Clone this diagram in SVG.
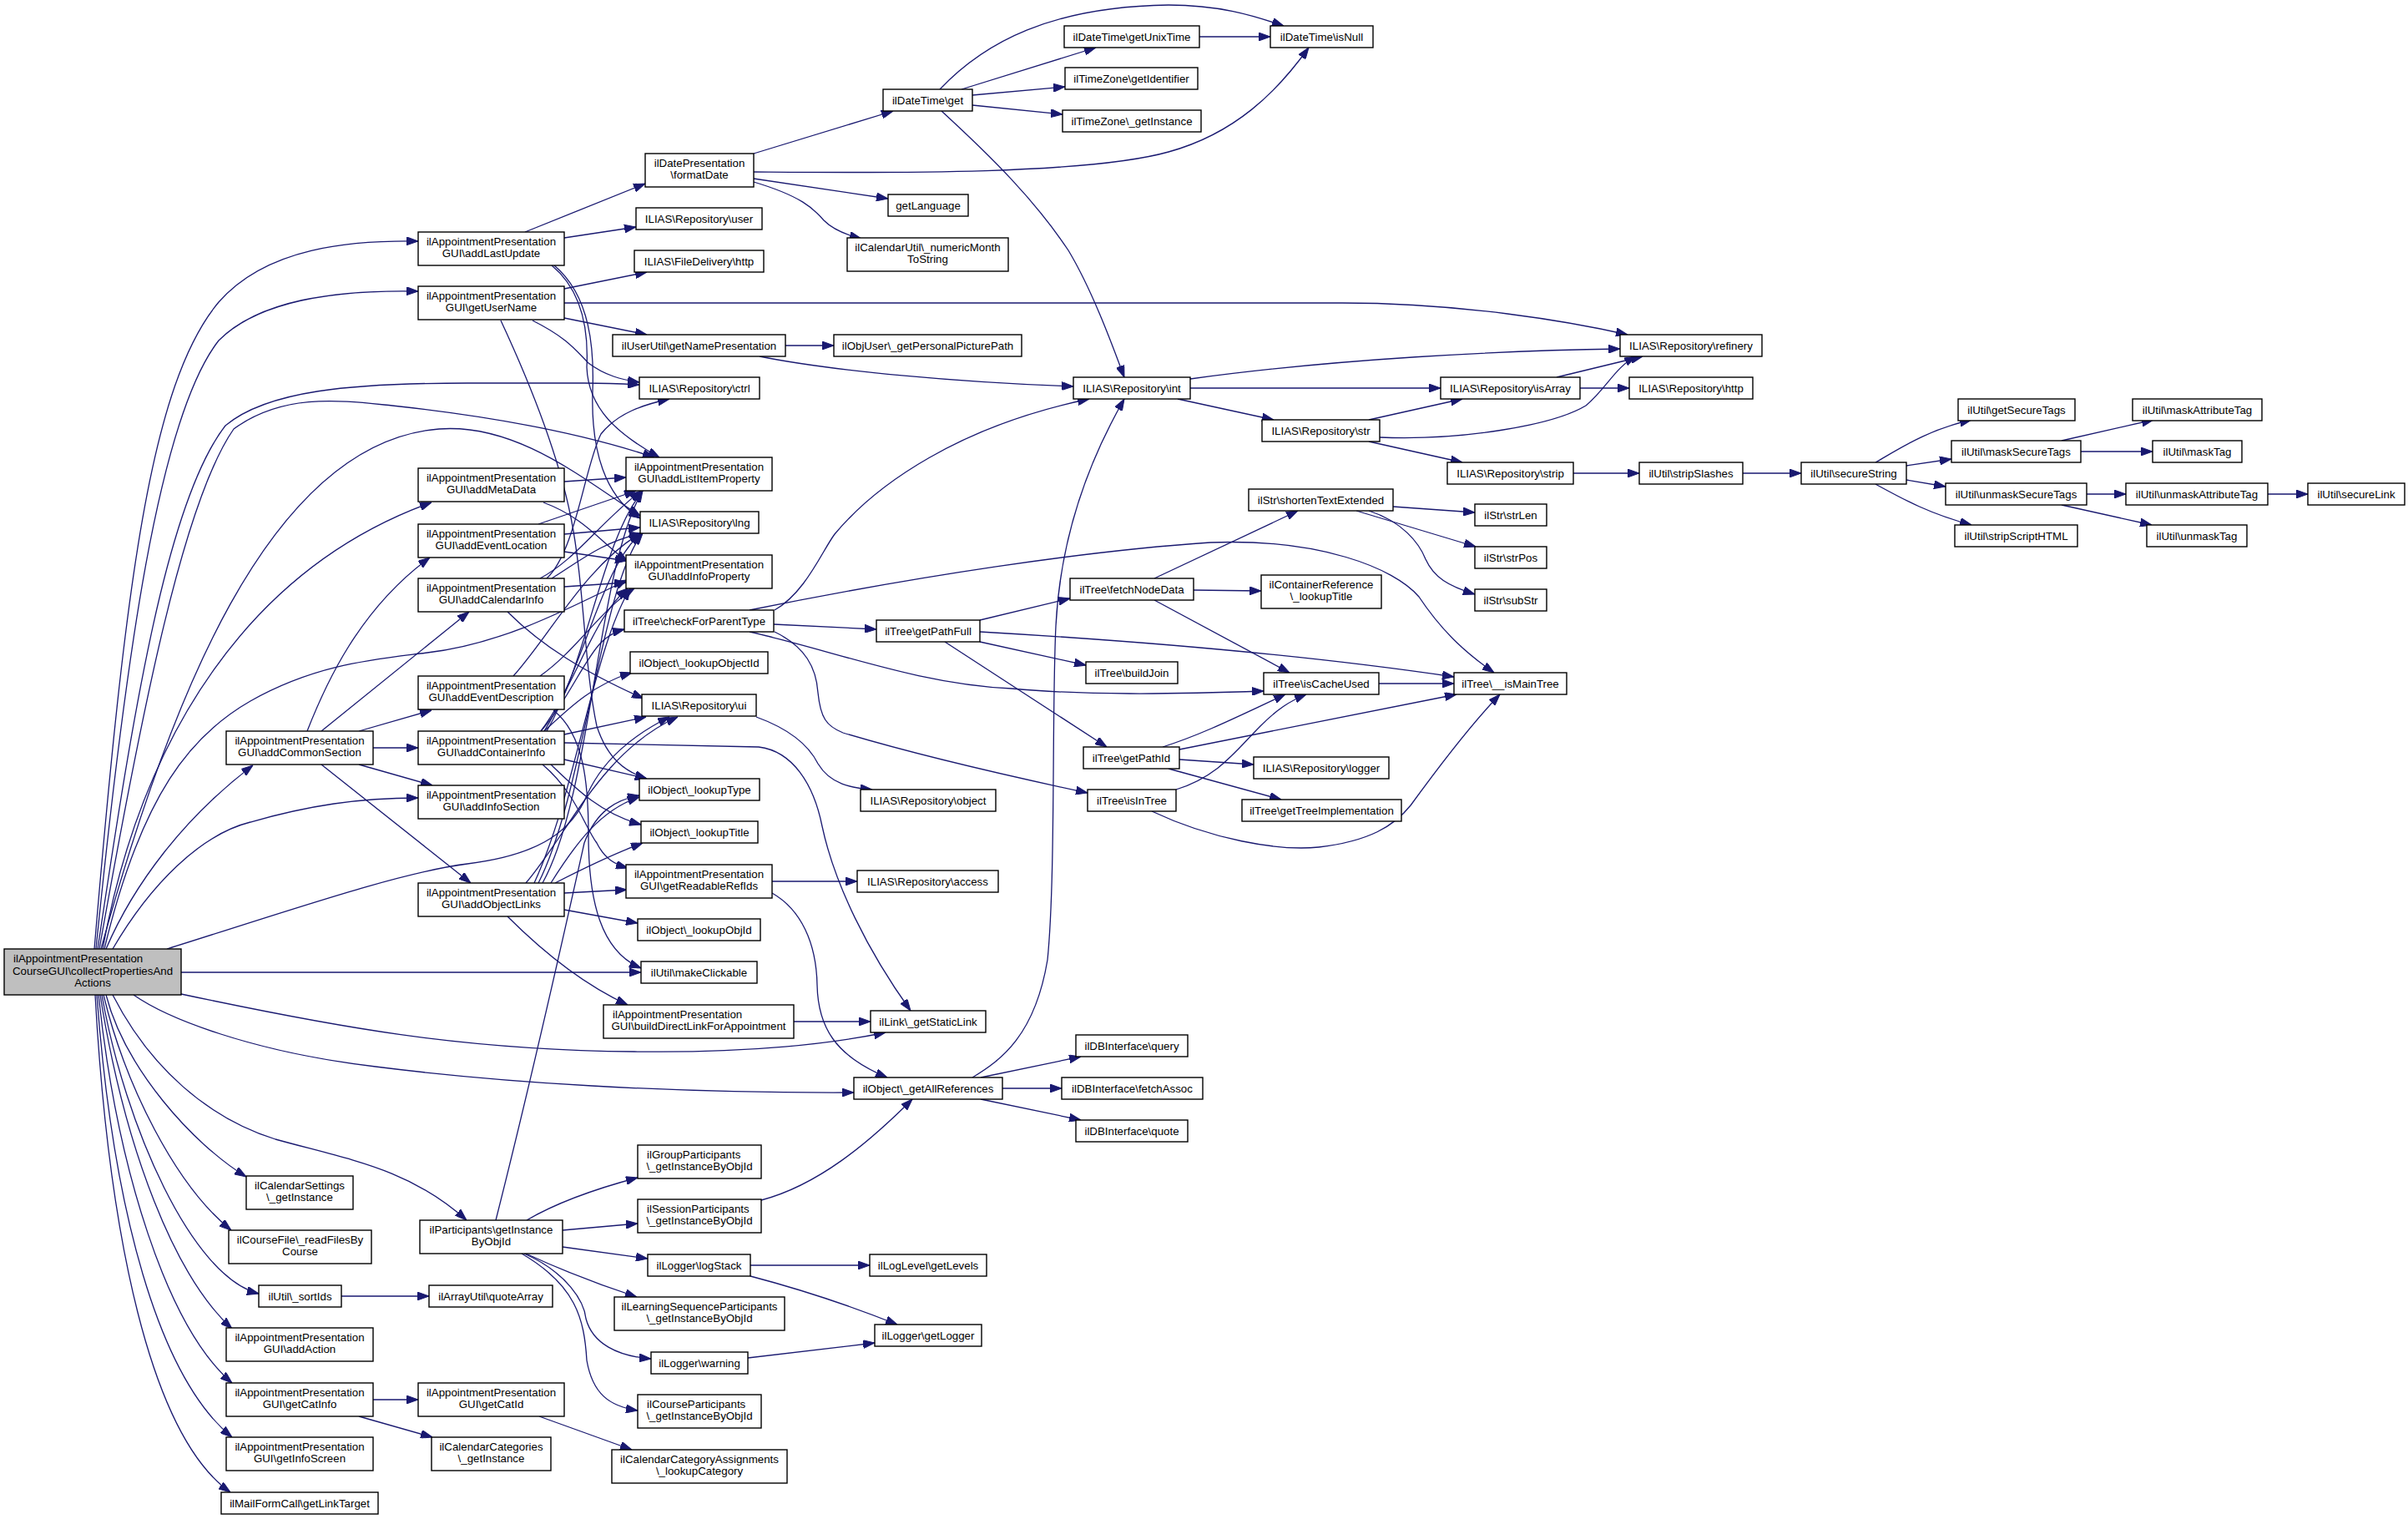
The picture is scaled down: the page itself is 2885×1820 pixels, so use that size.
<svg xmlns="http://www.w3.org/2000/svg" width="2885" height="1820" viewBox="0 0 2885 1820">
<defs>
<marker id="a" markerWidth="14" markerHeight="10" refX="14" refY="5" orient="auto" markerUnits="userSpaceOnUse"><path d="M0,0 L14,5 L0,10 z" fill="#191970" stroke="#191970" stroke-width="1"/></marker>
</defs>
<style>
.n rect{fill:#fff;stroke:#000;stroke-width:1.4}
.n rect.root{fill:#bfbfbf}
.n text{font-family:"Liberation Sans",Arial,sans-serif;font-size:13.3px;fill:#000;text-anchor:middle}
.n text.l{text-anchor:start}
.e path{fill:none;stroke:#191970;stroke-width:1.3;marker-end:url(#a)}
</style>
<rect x="0" y="0" width="2885" height="1820" fill="#fff"/>
<g id="edges" class="e">
<path d="M113,1137 C150,700 180,460 262,362 C320,296 420,288 501,289"/>
<path d="M115,1137 C150,790 190,500 262,408 C310,360 400,347 501,349"/>
<path d="M117,1137 C160,850 200,600 270,510 C320,468 420,459 560,459 L700,459 C730,459 748,460 766,461"/>
<path d="M119,1137 C170,850 220,600 280,514 C340,470 410,480 470,486 C600,500 700,520 784,548"/>
<path d="M121,1137 C200,850 320,530 526,514 C620,507 700,575 767,618"/>
<path d="M123,1137 C170,880 300,680 517,602"/>
<path d="M125,1137 C170,950 230,880 300,840 C380,795 450,790 512,782 C600,772 680,730 751,695"/>
<path d="M127,1137 C160,1060 220,980 303,917"/>
<path d="M135,1137 C180,1060 240,1000 300,985 C370,965 430,956 501,956"/>
<path d="M200,1137 C350,1090 480,1045 560,1035 C640,1025 680,1000 700,960 C720,910 760,880 802,859"/>
<path d="M217,1165 L768,1165"/>
<path d="M217,1191 C400,1230 550,1258 760,1260 C900,1262 1000,1250 1061,1237"/>
<path d="M160,1192 C200,1220 300,1260 450,1278 C600,1297 800,1310 1023,1309"/>
<path d="M135,1192 C180,1280 250,1340 330,1365 C420,1390 490,1400 559,1462"/>
<path d="M127,1192 C150,1280 230,1370 295,1410"/>
<path d="M124,1192 C150,1300 210,1420 277,1474"/>
<path d="M122,1192 C150,1350 230,1530 310,1550"/>
<path d="M120,1192 C150,1380 210,1530 278,1592"/>
<path d="M118,1192 C140,1400 200,1590 278,1657"/>
<path d="M116,1192 C135,1450 190,1650 278,1722"/>
<path d="M114,1192 C130,1480 180,1720 276,1788"/>
<path d="M629,278 L773,220"/>
<path d="M676,285 L762,272"/>
<path d="M661,318 C700,350 705,400 703,440 C705,490 740,520 790,548"/>
<path d="M664,318 C708,355 712,420 710,470 C708,540 725,595 767,621"/>
<path d="M676,346 L775,326"/>
<path d="M676,363 L1608,363 C1750,363 1880,385 1950,401"/>
<path d="M676,381 L775,401"/>
<path d="M638,384 C680,405 690,420 705,435 C725,450 745,455 766,458"/>
<path d="M600,384 C640,470 670,550 684,620 C700,700 700,800 715,870 C728,910 750,925 775,933"/>
<path d="M903,184 L1070,133"/>
<path d="M903,206 C1050,207 1300,210 1400,182 C1480,160 1530,110 1568,57"/>
<path d="M903,214 L1064,238"/>
<path d="M903,218 C960,235 975,250 987,264 C997,274 1012,281 1032,286"/>
<path d="M1152,107 L1313,57"/>
<path d="M1165,114 L1276,104"/>
<path d="M1165,126 L1273,137"/>
<path d="M1126,107 C1180,50 1260,8 1400,6 C1460,6 1500,18 1538,31"/>
<path d="M1128,133 C1190,190 1240,240 1280,300 C1310,350 1335,420 1347,452"/>
<path d="M1437,44 L1522,44"/>
<path d="M941,414 L999,414"/>
<path d="M910,427 C1000,445 1150,458 1286,463"/>
<path d="M1426,454 C1600,430 1800,420 1941,418"/>
<path d="M1426,465 L1726,465"/>
<path d="M1411,478 L1526,503"/>
<path d="M1640,503 L1752,478"/>
<path d="M1653,524 C1750,528 1860,510 1900,486 C1925,465 1935,440 1960,427"/>
<path d="M1640,529 L1752,554"/>
<path d="M1865,452 L1968,427"/>
<path d="M1893,465 L1952,465"/>
<path d="M1885,567 L1964,567"/>
<path d="M2088,567 L2158,567"/>
<path d="M2247,554 C2280,535 2310,515 2362,503"/>
<path d="M2284,558 L2338,550"/>
<path d="M2284,575 L2331,583"/>
<path d="M2247,580 C2280,598 2310,615 2362,629"/>
<path d="M2470,528 L2580,503"/>
<path d="M2493,541 L2579,541"/>
<path d="M2500,592 L2547,592"/>
<path d="M2470,605 L2578,629"/>
<path d="M2717,592 L2765,592"/>
<path d="M1669,607 L1767,614"/>
<path d="M1625,612 L1768,655"/>
<path d="M1640,612 C1680,625 1700,650 1708,670 C1718,692 1735,702 1767,712"/>
<path d="M1383,693 L1555,612"/>
<path d="M1430,707 L1511,708"/>
<path d="M1383,719 L1545,806"/>
<path d="M928,731 C965,710 985,660 1000,640 C1050,580 1150,510 1305,478"/>
<path d="M898,731 C1100,690 1300,660 1450,650 C1580,645 1670,680 1700,715 C1730,760 1760,785 1790,806"/>
<path d="M927,748 L1050,754"/>
<path d="M898,757 C1000,780 1100,820 1212,825 C1300,833 1400,832 1514,828"/>
<path d="M928,757 C965,775 978,800 980,830 C983,860 990,870 1010,878 C1100,905 1200,928 1303,950"/>
<path d="M1174,743 L1282,717"/>
<path d="M1174,769 L1301,797"/>
<path d="M1174,757 C1400,770 1600,790 1742,811"/>
<path d="M1132,769 L1326,895"/>
<path d="M1393,895 C1440,880 1480,860 1540,832"/>
<path d="M1413,898 L1745,832"/>
<path d="M1413,910 L1502,916"/>
<path d="M1400,921 L1535,958"/>
<path d="M1409,946 C1460,930 1480,900 1510,870 C1530,850 1545,840 1565,832"/>
<path d="M1380,972 C1450,1005 1530,1020 1580,1015 C1640,1008 1670,990 1690,965 C1730,910 1770,860 1797,832"/>
<path d="M1652,819 L1742,819"/>
<path d="M906,859 C950,875 970,895 980,915 C995,940 1020,944 1045,946"/>
<path d="M925,1056 L1027,1056"/>
<path d="M925,1070 C960,1090 978,1130 979,1180 C980,1230 1000,1265 1063,1291"/>
<path d="M1175,1291 L1295,1266"/>
<path d="M1201,1304 L1272,1304"/>
<path d="M1175,1317 L1295,1342"/>
<path d="M1165,1291 C1200,1270 1240,1240 1255,1150 C1265,1050 1260,850 1265,750 C1270,650 1300,560 1347,478"/>
<path d="M912,1438 C980,1420 1040,1370 1093,1317"/>
<path d="M631,1462 C660,1445 700,1428 764,1411"/>
<path d="M674,1474 L764,1466"/>
<path d="M674,1494 L776,1508"/>
<path d="M630,1502 C680,1525 720,1540 763,1554"/>
<path d="M628,1502 C680,1525 700,1560 702,1580 C710,1610 740,1625 780,1628"/>
<path d="M625,1502 C690,1540 700,1580 703,1630 C710,1670 730,1685 764,1690"/>
<path d="M594,1462 C630,1320 680,1100 700,1010 C715,970 740,958 766,953"/>
<path d="M899,1516 L1042,1516"/>
<path d="M899,1529 C960,1545 1020,1565 1075,1587"/>
<path d="M896,1627 L1048,1609"/>
<path d="M447,1677 L501,1677"/>
<path d="M430,1697 L518,1722"/>
<path d="M646,1697 L757,1737"/>
<path d="M409,1553 L514,1553"/>
<path d="M951,1224 L1043,1224"/>
<path d="M368,876 C390,820 430,730 515,668"/>
<path d="M385,876 L562,733"/>
<path d="M430,876 L517,851"/>
<path d="M447,896 L501,896"/>
<path d="M430,916 L518,941"/>
<path d="M385,916 L564,1058"/>
<path d="M676,577 L750,572"/>
<path d="M651,602 C700,620 720,650 752,673"/>
<path d="M676,661 L751,672"/>
<path d="M676,640 L767,632"/>
<path d="M645,628 L762,588"/>
<path d="M647,693 C690,670 715,630 768,588"/>
<path d="M661,693 C695,672 720,650 768,639"/>
<path d="M676,703 L750,698"/>
<path d="M655,693 C690,660 700,560 720,520 C740,495 770,485 802,478"/>
<path d="M608,733 C650,775 700,805 771,837"/>
<path d="M615,810 C660,760 700,680 767,639"/>
<path d="M647,810 C690,780 720,730 760,705"/>
<path d="M663,851 C700,880 705,940 705,1000 C705,1080 720,1140 768,1160"/>
<path d="M650,916 C690,950 700,990 715,1010 C725,1030 738,1036 752,1040"/>
<path d="M648,876 C680,840 700,790 720,770 C730,760 740,756 748,754"/>
<path d="M652,876 C680,850 710,820 757,806"/>
<path d="M676,910 L775,933"/>
<path d="M660,916 C690,945 720,975 768,988"/>
<path d="M676,890 L909,895 C950,900 975,940 985,990 C1000,1060 1040,1140 1091,1211"/>
<path d="M676,880 L774,859"/>
<path d="M648,876 C690,820 710,740 752,705"/>
<path d="M652,876 C700,800 720,680 768,639"/>
<path d="M655,876 C705,790 720,650 770,588"/>
<path d="M676,1070 L751,1066"/>
<path d="M665,1058 C700,1040 730,1025 770,1010"/>
<path d="M676,1090 L764,1106"/>
<path d="M660,1058 C690,1010 720,970 766,955"/>
<path d="M608,1098 C650,1140 700,1180 752,1204"/>
<path d="M630,1058 C680,1000 720,900 812,859"/>
<path d="M640,1058 C690,950 710,780 755,705"/>
<path d="M645,1058 C700,950 720,700 770,639"/>
<path d="M650,1058 C710,950 715,680 770,588"/>
</g>
<g id="n_collect" class="n"><rect class="root" x="5" y="1137" width="212" height="55"/><text class="l" x="16" y="1153">ilAppointmentPresentation</text><text x="111" y="1167.5">CourseGUI\collectPropertiesAnd</text><text x="111" y="1182">Actions</text></g>
<g id="n_addLastUpdate" class="n"><rect x="501" y="278" width="175" height="40"/><text x="588.5" y="293.5">ilAppointmentPresentation</text><text x="588.5" y="308">GUI\addLastUpdate</text></g>
<g id="n_getUserName" class="n"><rect x="501" y="343" width="175" height="40"/><text x="588.5" y="358.5">ilAppointmentPresentation</text><text x="588.5" y="373">GUI\getUserName</text></g>
<g id="n_addMetaData" class="n"><rect x="501" y="561" width="175" height="40"/><text x="588.5" y="576.5">ilAppointmentPresentation</text><text x="588.5" y="591">GUI\addMetaData</text></g>
<g id="n_addEventLocation" class="n"><rect x="501" y="628" width="175" height="40"/><text x="588.5" y="643.5">ilAppointmentPresentation</text><text x="588.5" y="658">GUI\addEventLocation</text></g>
<g id="n_addCalendarInfo" class="n"><rect x="501" y="693" width="175" height="40"/><text x="588.5" y="708.5">ilAppointmentPresentation</text><text x="588.5" y="723">GUI\addCalendarInfo</text></g>
<g id="n_addEventDescription" class="n"><rect x="501" y="810" width="175" height="40"/><text x="588.5" y="825.5">ilAppointmentPresentation</text><text x="588.5" y="840">GUI\addEventDescription</text></g>
<g id="n_addCommonSection" class="n"><rect x="271" y="876" width="176" height="40"/><text x="359" y="891.5">ilAppointmentPresentation</text><text x="359" y="906">GUI\addCommonSection</text></g>
<g id="n_addContainerInfo" class="n"><rect x="501" y="876" width="175" height="40"/><text x="588.5" y="891.5">ilAppointmentPresentation</text><text x="588.5" y="906">GUI\addContainerInfo</text></g>
<g id="n_addInfoSection" class="n"><rect x="501" y="941" width="175" height="40"/><text x="588.5" y="956.5">ilAppointmentPresentation</text><text x="588.5" y="971">GUI\addInfoSection</text></g>
<g id="n_addObjectLinks" class="n"><rect x="501" y="1058" width="175" height="40"/><text x="588.5" y="1073.5">ilAppointmentPresentation</text><text x="588.5" y="1088">GUI\addObjectLinks</text></g>
<g id="n_calSettings" class="n"><rect x="295" y="1409" width="128" height="40"/><text x="359" y="1424.5">ilCalendarSettings</text><text x="359" y="1439">\_getInstance</text></g>
<g id="n_courseFile" class="n"><rect x="274" y="1474" width="171" height="40"/><text x="359.5" y="1489.5">ilCourseFile\_readFilesBy</text><text x="359.5" y="1504">Course</text></g>
<g id="n_sortIds" class="n"><rect x="310" y="1540" width="99" height="26"/><text x="359.5" y="1557.5">ilUtil\_sortIds</text></g>
<g id="n_quoteArray" class="n"><rect x="514" y="1540" width="148" height="26"/><text x="588" y="1557.5">ilArrayUtil\quoteArray</text></g>
<g id="n_addAction" class="n"><rect x="271" y="1591" width="176" height="40"/><text x="359" y="1606.5">ilAppointmentPresentation</text><text x="359" y="1621">GUI\addAction</text></g>
<g id="n_getCatInfo" class="n"><rect x="271" y="1657" width="176" height="40"/><text x="359" y="1672.5">ilAppointmentPresentation</text><text x="359" y="1687">GUI\getCatInfo</text></g>
<g id="n_getCatId" class="n"><rect x="501" y="1657" width="175" height="40"/><text x="588.5" y="1672.5">ilAppointmentPresentation</text><text x="588.5" y="1687">GUI\getCatId</text></g>
<g id="n_getInfoScreen" class="n"><rect x="271" y="1722" width="176" height="40"/><text x="359" y="1737.5">ilAppointmentPresentation</text><text x="359" y="1752">GUI\getInfoScreen</text></g>
<g id="n_calCategories" class="n"><rect x="517" y="1722" width="143" height="40"/><text x="588.5" y="1737.5">ilCalendarCategories</text><text x="588.5" y="1752">\_getInstance</text></g>
<g id="n_mailForm" class="n"><rect x="265" y="1788" width="188" height="26"/><text x="359" y="1805.5">ilMailFormCall\getLinkTarget</text></g>
<g id="n_participants" class="n"><rect x="503" y="1462" width="171" height="40"/><text x="588.5" y="1477.5">ilParticipants\getInstance</text><text x="588.5" y="1492">ByObjId</text></g>
<g id="n_formatDate" class="n"><rect x="773" y="184" width="130" height="40"/><text x="838" y="199.5">ilDatePresentation</text><text x="838" y="214">\formatDate</text></g>
<g id="n_repoUser" class="n"><rect x="762" y="249" width="151" height="26"/><text x="837.5" y="266.5">ILIAS\Repository\user</text></g>
<g id="n_fileDelivHttp" class="n"><rect x="760" y="300" width="155" height="26"/><text x="837.5" y="317.5">ILIAS\FileDelivery\http</text></g>
<g id="n_getNamePresentation" class="n"><rect x="734" y="401" width="207" height="26"/><text x="837.5" y="418.5">ilUserUtil\getNamePresentation</text></g>
<g id="n_repoCtrl" class="n"><rect x="766" y="452" width="144" height="26"/><text x="838" y="469.5">ILIAS\Repository\ctrl</text></g>
<g id="n_addListItemProperty" class="n"><rect x="750" y="548" width="175" height="40"/><text x="837.5" y="563.5">ilAppointmentPresentation</text><text x="837.5" y="578">GUI\addListItemProperty</text></g>
<g id="n_repoLng" class="n"><rect x="767" y="613" width="142" height="26"/><text x="838" y="630.5">ILIAS\Repository\lng</text></g>
<g id="n_addInfoProperty" class="n"><rect x="750" y="665" width="175" height="40"/><text x="837.5" y="680.5">ilAppointmentPresentation</text><text x="837.5" y="695">GUI\addInfoProperty</text></g>
<g id="n_checkForParentType" class="n"><rect x="748" y="731" width="179" height="26"/><text x="837.5" y="748.5">ilTree\checkForParentType</text></g>
<g id="n_lookupObjectId" class="n"><rect x="755" y="781" width="165" height="26"/><text x="837.5" y="798.5">ilObject\_lookupObjectId</text></g>
<g id="n_repoUi" class="n"><rect x="769" y="832" width="137" height="26"/><text x="837.5" y="849.5">ILIAS\Repository\ui</text></g>
<g id="n_lookupType" class="n"><rect x="766" y="933" width="144" height="26"/><text x="838" y="950.5">ilObject\_lookupType</text></g>
<g id="n_lookupTitle" class="n"><rect x="768" y="984" width="140" height="26"/><text x="838" y="1001.5">ilObject\_lookupTitle</text></g>
<g id="n_getReadableRefIds" class="n"><rect x="750" y="1036" width="175" height="40"/><text x="837.5" y="1051.5">ilAppointmentPresentation</text><text x="837.5" y="1066">GUI\getReadableRefIds</text></g>
<g id="n_lookupObjId" class="n"><rect x="764" y="1101" width="147" height="26"/><text x="837.5" y="1118.5">ilObject\_lookupObjId</text></g>
<g id="n_makeClickable" class="n"><rect x="768" y="1152" width="139" height="26"/><text x="837.5" y="1169.5">ilUtil\makeClickable</text></g>
<g id="n_buildDirectLink" class="n"><rect x="723" y="1204" width="228" height="40"/><text class="l" x="734" y="1219.5">ilAppointmentPresentation</text><text x="837" y="1234">GUI\buildDirectLinkForAppointment</text></g>
<g id="n_groupPart" class="n"><rect x="764" y="1372" width="148" height="40"/><text class="l" x="775" y="1387.5">ilGroupParticipants</text><text x="838" y="1402">\_getInstanceByObjId</text></g>
<g id="n_sessionPart" class="n"><rect x="764" y="1437" width="148" height="40"/><text class="l" x="775" y="1452.5">ilSessionParticipants</text><text x="838" y="1467">\_getInstanceByObjId</text></g>
<g id="n_logStack" class="n"><rect x="776" y="1503" width="123" height="26"/><text x="837.5" y="1520.5">ilLogger\logStack</text></g>
<g id="n_lsPart" class="n"><rect x="736" y="1554" width="204" height="40"/><text x="838" y="1569.5">ilLearningSequenceParticipants</text><text x="838" y="1584">\_getInstanceByObjId</text></g>
<g id="n_warning" class="n"><rect x="780" y="1620" width="116" height="26"/><text x="838" y="1637.5">ilLogger\warning</text></g>
<g id="n_coursePart" class="n"><rect x="764" y="1671" width="148" height="40"/><text class="l" x="775" y="1686.5">ilCourseParticipants</text><text x="838" y="1701">\_getInstanceByObjId</text></g>
<g id="n_calCatAssign" class="n"><rect x="733" y="1737" width="210" height="40"/><text x="838" y="1752.5">ilCalendarCategoryAssignments</text><text x="838" y="1767">\_lookupCategory</text></g>
<g id="n_dateTimeGet" class="n"><rect x="1058" y="107" width="107" height="26"/><text x="1111.5" y="124.5">ilDateTime\get</text></g>
<g id="n_getLanguage" class="n"><rect x="1064" y="233" width="96" height="26"/><text x="1112" y="250.5">getLanguage</text></g>
<g id="n_numericMonth" class="n"><rect x="1015" y="285" width="193" height="40"/><text x="1111.5" y="300.5">ilCalendarUtil\_numericMonth</text><text x="1111.5" y="315">ToString</text></g>
<g id="n_getPersonalPicturePath" class="n"><rect x="999" y="401" width="225" height="26"/><text x="1111.5" y="418.5">ilObjUser\_getPersonalPicturePath</text></g>
<g id="n_getPathFull" class="n"><rect x="1050" y="743" width="124" height="26"/><text x="1112" y="760.5">ilTree\getPathFull</text></g>
<g id="n_repoObject" class="n"><rect x="1031" y="946" width="162" height="26"/><text x="1112" y="963.5">ILIAS\Repository\object</text></g>
<g id="n_repoAccess" class="n"><rect x="1027" y="1043" width="169" height="26"/><text x="1111.5" y="1060.5">ILIAS\Repository\access</text></g>
<g id="n_staticLink" class="n"><rect x="1043" y="1211" width="138" height="26"/><text x="1112" y="1228.5">ilLink\_getStaticLink</text></g>
<g id="n_getAllReferences" class="n"><rect x="1023" y="1291" width="178" height="26"/><text x="1112" y="1308.5">ilObject\_getAllReferences</text></g>
<g id="n_getLevels" class="n"><rect x="1042" y="1503" width="140" height="26"/><text x="1112" y="1520.5">ilLogLevel\getLevels</text></g>
<g id="n_getLogger" class="n"><rect x="1048" y="1587" width="128" height="26"/><text x="1112" y="1604.5">ilLogger\getLogger</text></g>
<g id="n_getUnixTime" class="n"><rect x="1275" y="31" width="162" height="26"/><text x="1356" y="48.5">ilDateTime\getUnixTime</text></g>
<g id="n_getIdentifier" class="n"><rect x="1276" y="81" width="159" height="26"/><text x="1355.5" y="98.5">ilTimeZone\getIdentifier</text></g>
<g id="n_tzGetInstance" class="n"><rect x="1273" y="132" width="166" height="26"/><text x="1356" y="149.5">ilTimeZone\_getInstance</text></g>
<g id="n_repoInt" class="n"><rect x="1286" y="452" width="140" height="26"/><text x="1356" y="469.5">ILIAS\Repository\int</text></g>
<g id="n_fetchNodeData" class="n"><rect x="1282" y="693" width="148" height="26"/><text x="1356" y="710.5">ilTree\fetchNodeData</text></g>
<g id="n_buildJoin" class="n"><rect x="1301" y="793" width="110" height="26"/><text x="1356" y="810.5">ilTree\buildJoin</text></g>
<g id="n_getPathId" class="n"><rect x="1298" y="895" width="115" height="26"/><text x="1355.5" y="912.5">ilTree\getPathId</text></g>
<g id="n_isInTree" class="n"><rect x="1303" y="946" width="106" height="26"/><text x="1356" y="963.5">ilTree\isInTree</text></g>
<g id="n_dbQuery" class="n"><rect x="1289" y="1240" width="134" height="26"/><text x="1356" y="1257.5">ilDBInterface\query</text></g>
<g id="n_dbFetchAssoc" class="n"><rect x="1272" y="1291" width="169" height="26"/><text x="1356.5" y="1308.5">ilDBInterface\fetchAssoc</text></g>
<g id="n_dbQuote" class="n"><rect x="1289" y="1342" width="134" height="26"/><text x="1356" y="1359.5">ilDBInterface\quote</text></g>
<g id="n_isNull" class="n"><rect x="1522" y="31" width="123" height="26"/><text x="1583.5" y="48.5">ilDateTime\isNull</text></g>
<g id="n_repoStr" class="n"><rect x="1512" y="503" width="141" height="26"/><text x="1582.5" y="520.5">ILIAS\Repository\str</text></g>
<g id="n_shortenText" class="n"><rect x="1496" y="586" width="173" height="26"/><text x="1582.5" y="603.5">ilStr\shortenTextExtended</text></g>
<g id="n_containerRefTitle" class="n"><rect x="1511" y="689" width="144" height="40"/><text x="1583" y="704.5">ilContainerReference</text><text x="1583" y="719">\_lookupTitle</text></g>
<g id="n_isCacheUsed" class="n"><rect x="1514" y="806" width="138" height="26"/><text x="1583" y="823.5">ilTree\isCacheUsed</text></g>
<g id="n_repoLogger" class="n"><rect x="1502" y="907" width="162" height="26"/><text x="1583" y="924.5">ILIAS\Repository\logger</text></g>
<g id="n_getTreeImpl" class="n"><rect x="1488" y="958" width="191" height="26"/><text x="1583.5" y="975.5">ilTree\getTreeImplementation</text></g>
<g id="n_isArray" class="n"><rect x="1726" y="452" width="167" height="26"/><text x="1809.5" y="469.5">ILIAS\Repository\isArray</text></g>
<g id="n_repoStrip" class="n"><rect x="1734" y="554" width="151" height="26"/><text x="1809.5" y="571.5">ILIAS\Repository\strip</text></g>
<g id="n_strLen" class="n"><rect x="1767" y="604" width="86" height="26"/><text x="1810" y="621.5">ilStr\strLen</text></g>
<g id="n_strPos" class="n"><rect x="1767" y="655" width="86" height="26"/><text x="1810" y="672.5">ilStr\strPos</text></g>
<g id="n_subStr" class="n"><rect x="1767" y="706" width="86" height="26"/><text x="1810" y="723.5">ilStr\subStr</text></g>
<g id="n_isMainTree" class="n"><rect x="1742" y="806" width="135" height="26"/><text x="1809.5" y="823.5">ilTree\__isMainTree</text></g>
<g id="n_refinery" class="n"><rect x="1941" y="401" width="170" height="26"/><text x="2026" y="418.5">ILIAS\Repository\refinery</text></g>
<g id="n_repoHttp" class="n"><rect x="1952" y="452" width="148" height="26"/><text x="2026" y="469.5">ILIAS\Repository\http</text></g>
<g id="n_stripSlashes" class="n"><rect x="1964" y="554" width="124" height="26"/><text x="2026" y="571.5">ilUtil\stripSlashes</text></g>
<g id="n_secureString" class="n"><rect x="2158" y="554" width="126" height="26"/><text x="2221" y="571.5">ilUtil\secureString</text></g>
<g id="n_getSecureTags" class="n"><rect x="2346" y="478" width="140" height="26"/><text x="2416" y="495.5">ilUtil\getSecureTags</text></g>
<g id="n_maskSecureTags" class="n"><rect x="2338" y="528" width="155" height="26"/><text x="2415.5" y="545.5">ilUtil\maskSecureTags</text></g>
<g id="n_unmaskSecureTags" class="n"><rect x="2331" y="579" width="169" height="26"/><text x="2415.5" y="596.5">ilUtil\unmaskSecureTags</text></g>
<g id="n_stripScriptHTML" class="n"><rect x="2342" y="629" width="147" height="26"/><text x="2415.5" y="646.5">ilUtil\stripScriptHTML</text></g>
<g id="n_maskAttributeTag" class="n"><rect x="2555" y="478" width="155" height="26"/><text x="2632.5" y="495.5">ilUtil\maskAttributeTag</text></g>
<g id="n_maskTag" class="n"><rect x="2579" y="528" width="107" height="26"/><text x="2632.5" y="545.5">ilUtil\maskTag</text></g>
<g id="n_unmaskAttributeTag" class="n"><rect x="2547" y="579" width="170" height="26"/><text x="2632" y="596.5">ilUtil\unmaskAttributeTag</text></g>
<g id="n_unmaskTag" class="n"><rect x="2572" y="629" width="120" height="26"/><text x="2632" y="646.5">ilUtil\unmaskTag</text></g>
<g id="n_secureLink" class="n"><rect x="2765" y="579" width="116" height="26"/><text x="2823" y="596.5">ilUtil\secureLink</text></g>
</svg>
